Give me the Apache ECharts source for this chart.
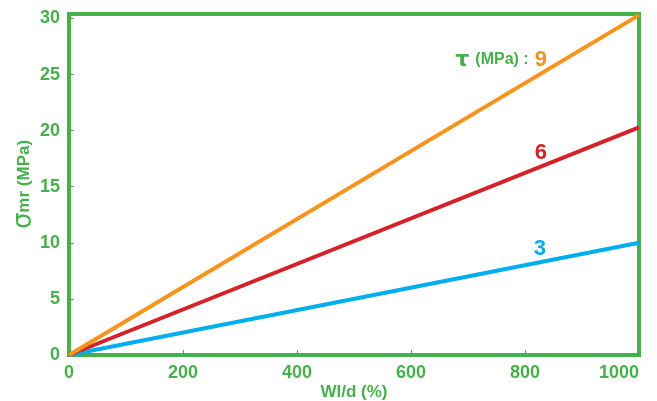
<!DOCTYPE html>
<html>
<head>
<meta charset="utf-8">
<script src="https://cdn.jsdelivr.net/npm/echarts@6/dist/echarts.min.js"></script>
<style>
  html, body { margin: 0; padding: 0; background: #fff; }
  #chart { width: 657px; height: 401px; }
</style>
</head>
<body>
<div id="chart"></div>
<script>
// Flexural stress vs. span ratio for three shear strengths
const wld = [0, 1000];                 // Wl/d (%)
const sigmaTau3 = [0, 10.0];           // σmr (MPa), τ = 3 MPa
const sigmaTau6 = [0, 20.3];           // σmr (MPa), τ = 6 MPa
const sigmaTau9 = [0, 30.3];           // σmr (MPa), τ = 9 MPa
const xTicks = [0, 200, 400, 600, 800, 1000];
const yTicks = [0, 5, 10, 15, 20, 25, 30];

const GREEN = '#46b04a';
const ORANGE = '#f7941d';
const RED = '#d2232a';
const BLUE = '#00aeef';
const FONT = '"Liberation Sans Narrow", "Arial Narrow", "Liberation Sans", Arial, sans-serif';

function pairs(xs, ys) { return xs.map((x, i) => [x, ys[i]]); }

function lineSeries(name, values, color, tag) {
  return {
    name: name,
    type: 'line',
    data: pairs(wld, values),
    symbol: 'none',
    silent: true,
    lineStyle: { color: color, width: 4 },
    markPoint: {
      symbol: 'circle',
      symbolSize: 1,
      itemStyle: { color: 'rgba(0,0,0,0)' },
      silent: true,
      data: [{ coord: tag.coord, value: 0 }],
      label: {
        show: true,
        position: 'inside',
        formatter: tag.text,
        color: color,
        fontFamily: FONT,
        fontWeight: 'bold',
        fontSize: 22,
        rich: tag.rich
      }
    }
  };
}

const chart = echarts.init(document.getElementById('chart'), null, { renderer: 'canvas' });
chart.setOption({
  animation: false,
  backgroundColor: '#fff',
  grid: {
    left: 69, right: 18, top: 14, bottom: 46,
    outerBoundsMode: 'none', containLabel: false,
    show: true, borderColor: GREEN, borderWidth: 4, backgroundColor: 'transparent'
  },
  xAxis: {
    type: 'value', min: 0, max: 1000,
    name: 'Wl/d (%)', nameLocation: 'middle', nameGap: 29, nameMoveOverlap: false,
    nameTextStyle: { color: GREEN, fontFamily: FONT, fontWeight: 'bold', fontSize: 17 },
    axisLine: { show: true, lineStyle: { color: GREEN, width: 4 } },
    axisTick: { show: true, inside: true, length: 5, lineStyle: { color: GREEN, width: 1 }, customValues: xTicks },
    axisLabel: { color: GREEN, fontFamily: FONT, fontWeight: 'bold', fontSize: 18, margin: 9,
                 customValues: xTicks, alignMaxLabel: 'right', formatter: v => String(v) },
    splitLine: { show: false }
  },
  yAxis: {
    type: 'value', min: 0, max: 30.4,
    name: '{s|σ}{t|mr (MPa)}', nameLocation: 'middle', nameGap: 32, nameMoveOverlap: false,
    nameTextStyle: {
      color: GREEN, fontFamily: FONT, fontWeight: 'bold',
      rich: {
        s: { color: GREEN, fontFamily: '"DejaVu Sans", sans-serif', fontSize: 26, fontWeight: 'normal' },
        t: { color: GREEN, fontFamily: FONT, fontWeight: 'bold', fontSize: 17 }
      }
    },
    axisLine: { show: true, lineStyle: { color: GREEN, width: 4 } },
    axisTick: { show: true, inside: true, length: 5, lineStyle: { color: GREEN, width: 1 }, customValues: yTicks },
    axisLabel: { color: GREEN, fontFamily: FONT, fontWeight: 'bold', fontSize: 18, margin: 9,
                 customValues: yTicks, formatter: v => String(v) },
    splitLine: { show: false }
  },
  series: [
    lineSeries('τ = 3', sigmaTau3, BLUE, { coord: [826, 9.5], text: '3' }),
    lineSeries('τ = 6', sigmaTau6, RED, { coord: [828, 18.0], text: '6' }),
    lineSeries('τ = 9', sigmaTau9, ORANGE, {
      coord: [758, 26.3],
      text: '{t|τ} {m|(MPa) :} {n|9}',
      rich: {
        t: { color: GREEN, fontFamily: '"DejaVu Sans", sans-serif', fontSize: 22 },
        m: { color: GREEN, fontFamily: FONT, fontWeight: 'bold', fontSize: 16 },
        n: { color: ORANGE, fontFamily: FONT, fontWeight: 'bold', fontSize: 22 }
      }
    })
  ]
});
</script>
</body>
</html>
